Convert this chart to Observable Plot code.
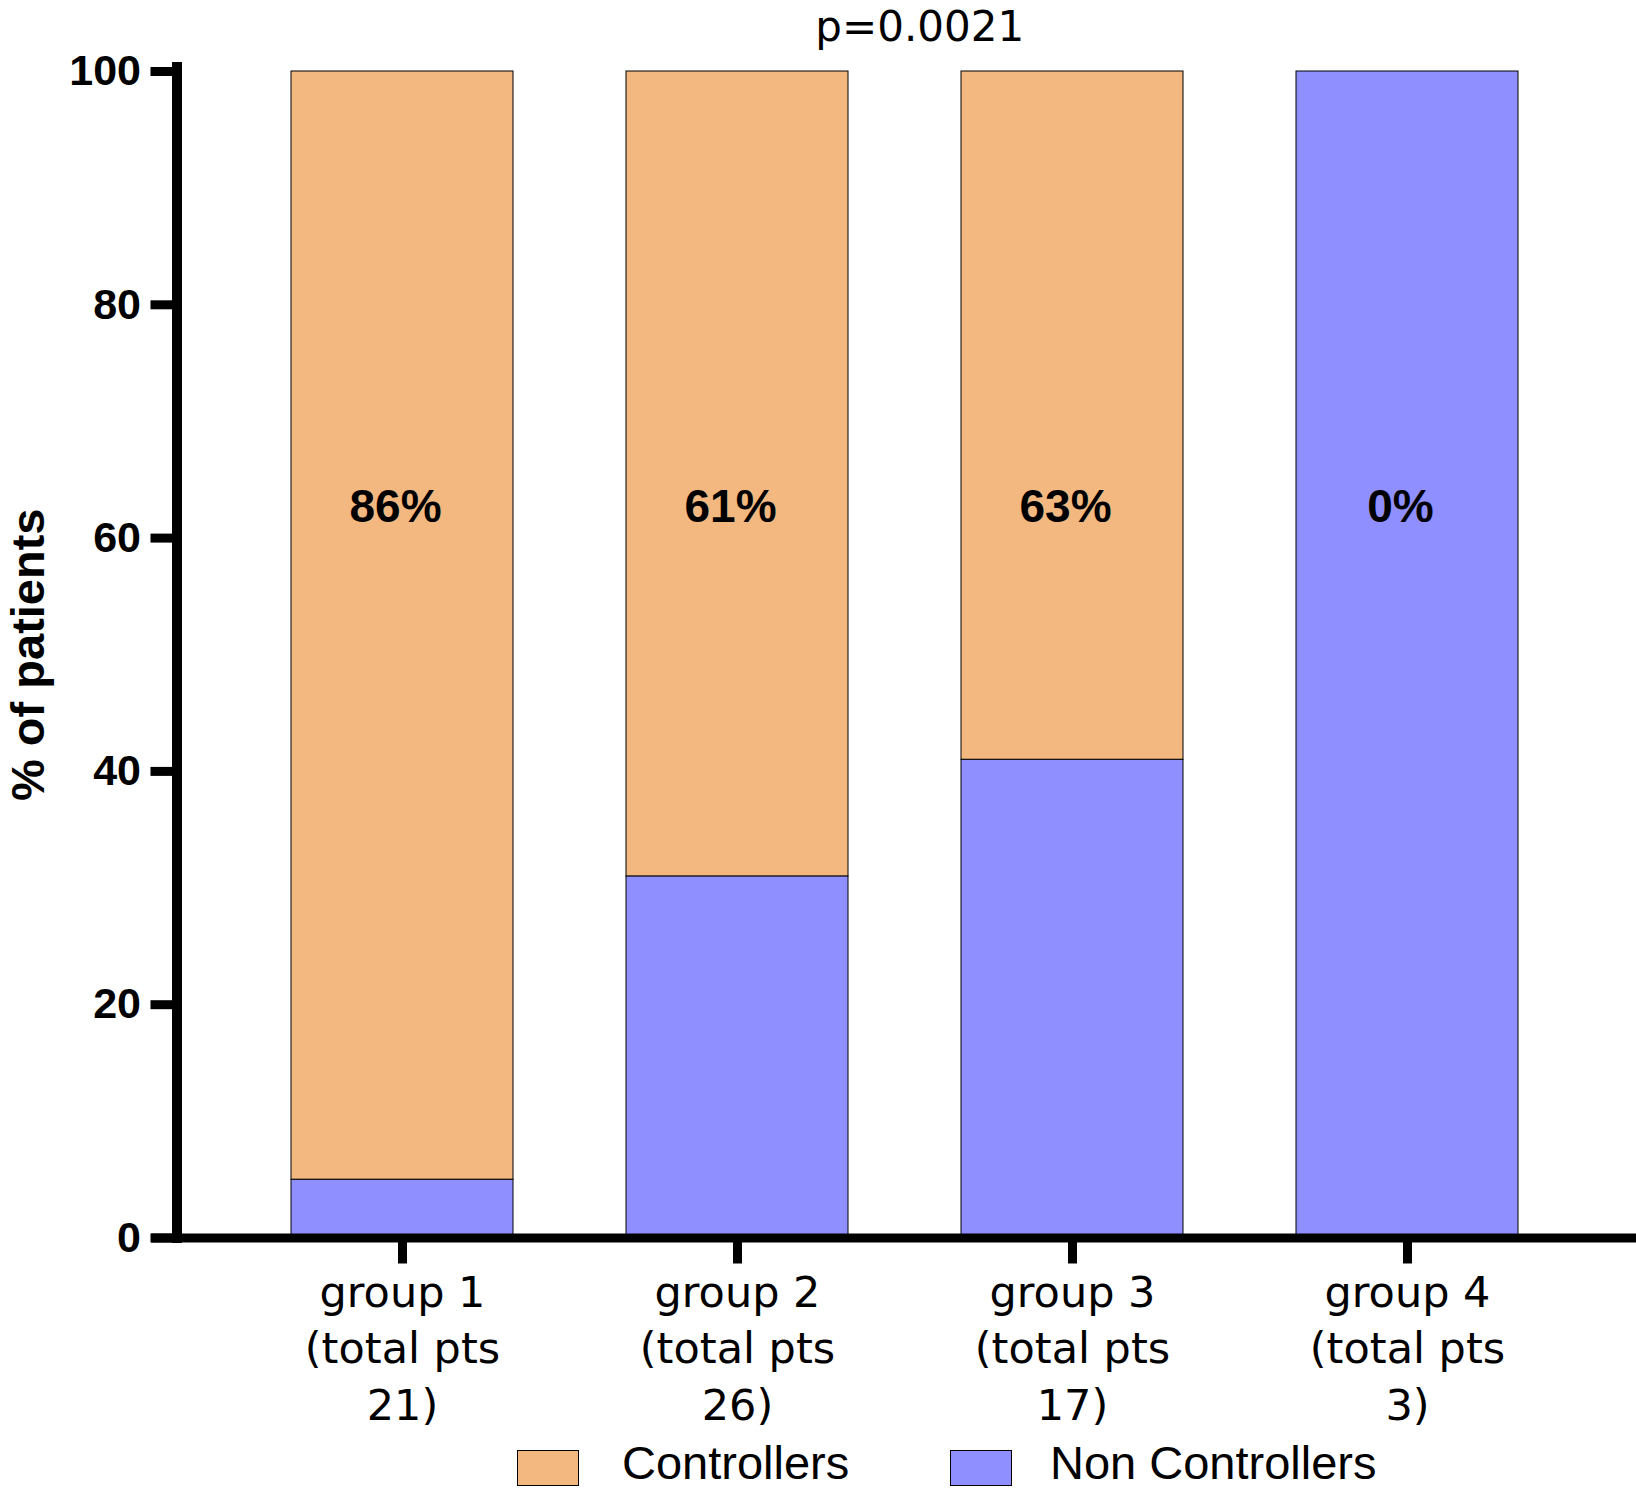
<!DOCTYPE html>
<html>
<head>
<meta charset="utf-8">
<script src="https://cdn.jsdelivr.net/npm/d3@7"></script>
<script src="https://cdn.jsdelivr.net/npm/@observablehq/plot@0.6"></script>
<style>
  html, body { margin: 0; padding: 0; background: #fff; }
  #wrap { position: relative; width: 1636px; height: 1489px; overflow: hidden; background: #fff; }
  #legend { position: absolute; left: 0; top: 1440px; width: 1636px; height: 49px; font-family: "Liberation Sans", Arial, sans-serif; font-size: 47px; line-height: 47px; color: #000; }
  .sw { position: absolute; top: 10px; width: 62px; height: 36px; box-sizing: border-box; border: 1px solid #000; }
  .lt { position: absolute; top: -1px; white-space: nowrap; }
</style>
</head>
<body>
<div id="wrap">
  <div id="chart"></div>
  <div id="legend"></div>
</div>
<script>
// ---- data ----
const groups = ["group 1", "group 2", "group 3", "group 4"];
const totals = [21, 26, 17, 3];
const controllers = [95, 69, 59, 0];
const nonControllers = [5, 31, 41, 100];
const pctLabels = ["86%", "61%", "63%", "0%"];
const seriesNames = ["Controllers", "Non Controllers"];
const seriesColors = ["#F2B880", "#8F8FFF"];
const yTicks = [0, 20, 40, 60, 80, 100];
const title = "p=0.0021";
const yLabel = "% of patients";

// tidy rows: non-controllers first so they stack at the bottom
const rows = [
  ...groups.map((g, i) => ({group: g, series: "Non Controllers", value: nonControllers[i]})),
  ...groups.map((g, i) => ({group: g, series: "Controllers", value: controllers[i]}))
];
const labelRows = groups.map((g, i) => ({group: g, label: pctLabels[i]}));
const tickText = new Map(groups.map((g, i) => [g, `${g}\n(total pts\n${totals[i]})`]));

const chart = Plot.plot({
  width: 1636,
  height: 1440,
  marginTop: 71,
  marginBottom: 202.5,
  marginLeft: 176.5,
  marginRight: 4,
  style: {fontFamily: "Liberation Sans, Arial, sans-serif", background: "#fff", overflow: "visible", color: "#000"},
  x: {domain: groups, paddingInner: 0.3364, paddingOuter: 0.3376, align: 0.5},
  y: {domain: [0, 100]},
  color: {domain: seriesNames, range: seriesColors},
  marks: [
    Plot.barY(rows, {x: "group", y: "value", fill: "series", stroke: "#000", strokeWidth: 1}),
    Plot.text(labelRows, {x: "group", y: 61.34, text: "label", lineAnchor: "bottom", dx: -7,
      fontSize: 46, fontWeight: "bold", fontFamily: "Liberation Sans, Arial, sans-serif", fill: "#000"}),
    Plot.axisY({ticks: yTicks, tickSize: 26, strokeWidth: 9, tickPadding: 10, fontSize: 43,
      fontWeight: "bold", fontFamily: "Liberation Sans, Arial, sans-serif", label: null}),
    Plot.axisX({tickSize: 26, strokeWidth: 9, tickPadding: 3, fontSize: 43, lineHeight: 1.31,
      fontFamily: "DejaVu Sans, sans-serif", label: null, tickFormat: (d) => tickText.get(d)}),
    Plot.frame({anchor: "left", stroke: "#000", strokeWidth: 10, insetTop: -4.5}),
    Plot.ruleY([0], {stroke: "#000", strokeWidth: 9, insetLeft: -25.5, insetRight: -4}),
    Plot.text([title], {text: (d) => d, frameAnchor: "top", dy: -31, dx: 15, lineAnchor: "bottom",
      fontSize: 42, fontFamily: "DejaVu Sans, sans-serif", fill: "#000"}),
    Plot.text([yLabel], {text: (d) => d, frameAnchor: "left", textAnchor: "middle", rotate: -90, dx: -133, lineAnchor: "bottom",
      fontSize: 47, fontWeight: "bold", fontFamily: "Liberation Sans, Arial, sans-serif", fill: "#000"})
  ]
});
document.getElementById("chart").appendChild(chart);

// legend (HTML, below the SVG)
const legend = document.getElementById("legend");
const swLeft = [517, 950];
const txLeft = [622, 1050];
seriesNames.forEach((name, i) => {
  const sw = document.createElement("div");
  sw.className = "sw";
  sw.style.left = swLeft[i] + "px";
  sw.style.background = seriesColors[i];
  legend.appendChild(sw);
  const t = document.createElement("div");
  t.className = "lt";
  t.style.left = txLeft[i] + "px";
  t.textContent = name;
  legend.appendChild(t);
});
</script>
</body>
</html>
